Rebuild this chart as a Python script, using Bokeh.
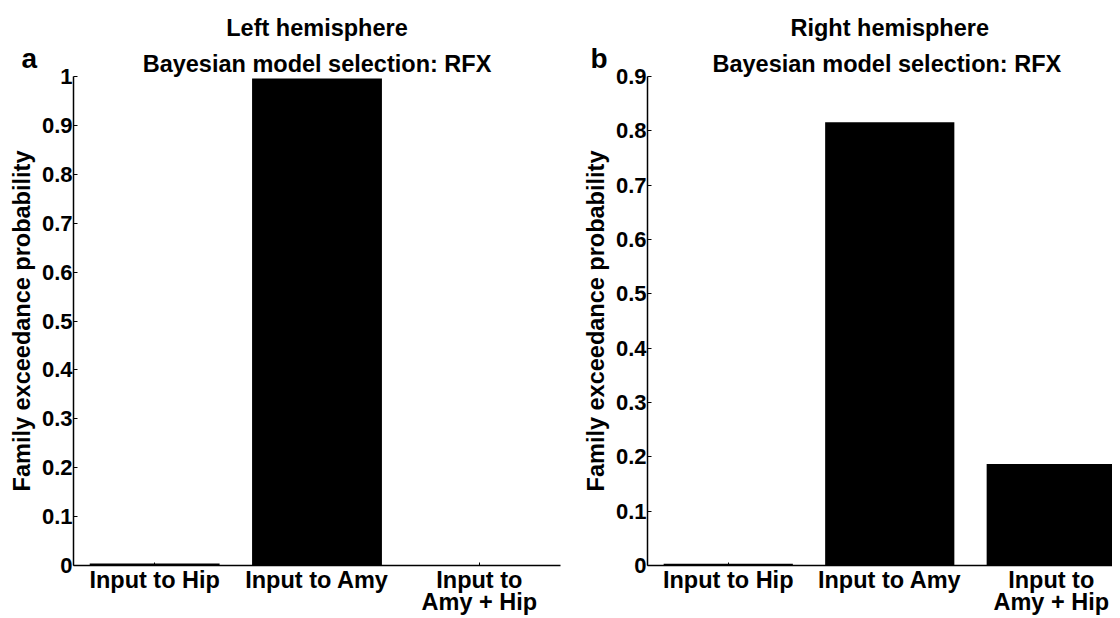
from bokeh.plotting import figure
from bokeh.layouts import row
from bokeh.models import (Range1d, FixedTicker, NumeralTickFormatter, Title,
                          ColumnDataSource)
from bokeh.embed import file_html
from bokeh.resources import INLINE

# ---- data ----
positions = [1, 2, 3]
categories = ["Input to Hip", "Input to Amy", "Input to\nAmy + Hip"]
left_values = [0.004, 0.996, 0.0005]
right_values = [0.003, 0.816, 0.187]
left_yticks = [0, 0.1, 0.2, 0.3, 0.4, 0.5, 0.6, 0.7, 0.8, 0.9, 1.0]
right_yticks = [0, 0.1, 0.2, 0.3, 0.4, 0.5, 0.6, 0.7, 0.8, 0.9]

FONT = "Liberation Sans"
FS = "23.5px"
TICK_FS = "22px"


def make_panel(values, yticks, ymax, xmax, width, border_left, border_right,
               title, title_align, main_off, sub_off, letter, letter_off):
    p = figure(width=width, height=618, output_backend="svg", toolbar_location=None,
               x_range=Range1d(0.5, xmax), y_range=Range1d(0, ymax),
               min_border_left=border_left, min_border_right=border_right,
               min_border_top=76, min_border_bottom=50)
    p.outline_line_color = None
    p.grid.visible = False
    p.background_fill_color = "white"
    p.border_fill_color = "white"

    src = ColumnDataSource(dict(x=positions, top=values))
    p.vbar(x="x", top="top", width=0.8, source=src, fill_color="black",
           line_color=None)

    # x axis
    xa = p.xaxis[0]
    xa.ticker = FixedTicker(ticks=positions)
    xa.major_label_overrides = {pos: lab for pos, lab in zip(positions, categories)}
    xa.major_tick_in = 3
    xa.major_tick_out = 0
    xa.minor_tick_line_color = None
    xa.major_label_standoff = 1
    xa.major_label_text_font = FONT
    xa.major_label_text_font_size = FS
    xa.major_label_text_font_style = "bold"
    xa.major_label_text_color = "black"
    xa.major_label_text_line_height = 0.88
    xa.axis_line_color = "black"
    xa.axis_line_width = 1.5

    # y axis
    ya = p.yaxis[0]
    ya.ticker = FixedTicker(ticks=yticks)
    ya.formatter = NumeralTickFormatter(format="0.[0]")
    ya.major_tick_in = 4
    ya.major_tick_out = 0
    ya.minor_tick_line_color = None
    ya.major_label_standoff = 1
    ya.major_label_text_font = FONT
    ya.major_label_text_font_size = TICK_FS
    ya.major_label_text_font_style = "bold"
    ya.major_label_text_color = "black"
    ya.axis_line_color = "black"
    ya.axis_line_width = 1.5
    ya.axis_label = "Family exceedance probability"
    ya.axis_label_text_font = FONT
    ya.axis_label_text_font_size = FS
    ya.axis_label_text_font_style = "bold"
    ya.axis_label_text_color = "black"
    ya.axis_label_standoff = 4

    sub = Title(text="Bayesian model selection: RFX", align=title_align,
                offset=sub_off, text_font=FONT, text_font_size=FS,
                text_font_style="bold", text_color="black", standoff=0)
    let = Title(text=letter, align="left", offset=letter_off, text_font=FONT,
                text_font_size="28px", text_font_style="bold", text_color="black",
                standoff=-50)
    main = Title(text=title, align=title_align, offset=main_off, text_font=FONT,
                 text_font_size=FS, text_font_style="bold", text_color="black",
                 standoff=16)
    p.add_layout(sub, "above")
    p.add_layout(let, "above")
    p.add_layout(main, "above")
    return p


p1 = make_panel(left_values, left_yticks, 1.0, 3.5, 576, 73, 16,
                "Left hemisphere", "center", 0, 0, "a", -52)
p2 = make_panel(right_values, right_yticks, 0.9, 0.5 + 465 / 161.5, 536, 71, 0,
                "Right hemisphere", "left", 143, 65, "b", -57)

layout = row(p1, p2)
open("out.html", "w").write(file_html(layout, INLINE))
